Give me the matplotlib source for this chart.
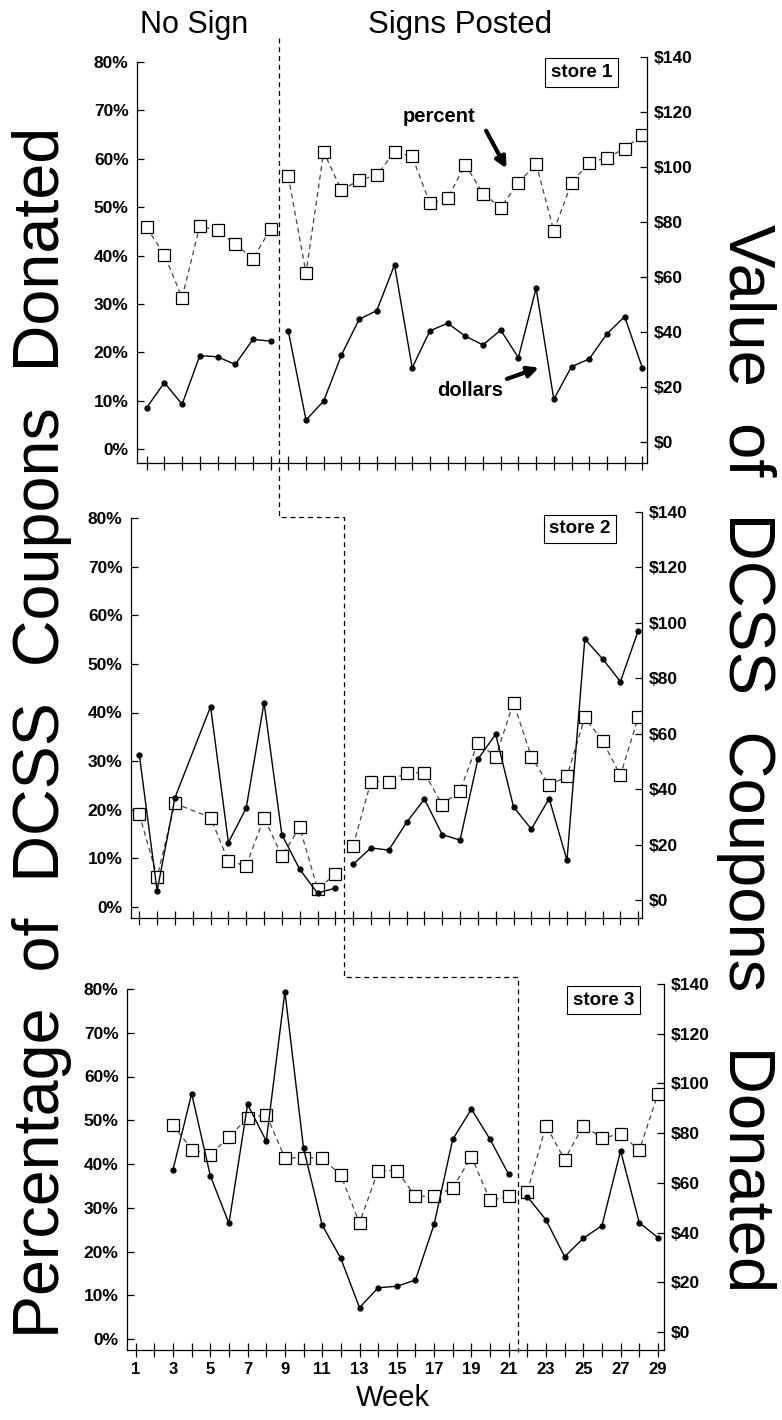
import numpy as np
import matplotlib
matplotlib.use("Agg")
import matplotlib.pyplot as plt
from matplotlib.lines import Line2D

plt.rcParams['font.family'] = ['Liberation Sans', 'DejaVu Sans']

nan = np.nan
weeks = np.arange(1, 30)

# store 1
s1_pct = [45.8, 40.1, 31.3, 46.1, 45.2, 42.4, 39.3, 45.5, 56.4, 36.4, 61.4, 53.5, 55.6, 56.6, 61.4,
          60.5, 50.8, 51.8, 58.8, 52.8, 49.9, 55.0, 59.0, 45.1, 55.0, 59.2, 60.2, 62.1, 65.0]
s1_usd = [12.5, 21.6, 13.7, 31.4, 31.0, 28.2, 37.3, 36.7, 40.4, 8.0, 14.9, 31.6, 44.6, 47.8, 64.4,
          27.0, 40.4, 43.2, 38.5, 35.3, 40.7, 30.7, 55.9, 15.5, 27.4, 30.2, 39.3, 45.6, 27.0]
# store 2
s2_pct = [19.1, 6.2, 21.3, nan, 18.4, 9.4, 8.5, 18.4, 10.5, 16.4, 3.8, 6.7, 12.6, 25.8, 25.8,
          27.6, 27.6, 21.0, 23.9, 33.8, 30.9, 42.0, 30.9, 25.0, 26.9, 39.0, 34.1, 27.1, 39.0]
s2_usd = [52.4, 3.3, 36.9, nan, 69.8, 20.7, 33.2, 71.2, 23.6, 11.1, 2.5, 4.3, 12.9, 18.8, 18.0,
          28.0, 36.4, 23.6, 21.6, 50.8, 59.8, 33.6, 25.6, 36.6, 14.3, 94.2, 87.0, 78.8, 97.2]
# store 3
s3_pct = [nan, nan, 49.0, 43.3, 42.1, 46.2, 50.5, 51.3, 41.4, 41.4, 41.4, 37.4, 26.5, 38.5, 38.5,
          32.6, 32.6, 34.5, 41.7, 31.7, 32.6, 33.7, 48.8, 41.0, 48.8, 45.9, 46.9, 43.1, 56.0]
s3_usd = [nan, nan, 65.3, 95.9, 62.9, 43.7, 91.6, 76.8, 136.9, 73.9, 43.0, 29.6, 9.8, 17.8, 18.4,
          20.9, 43.3, 77.5, 89.7, 77.5, 63.4, 54.4, 45.1, 30.3, 37.7, 42.8, 72.9, 44.0, 38.0]

store_names = ["store 1", "store 2", "store 3"]
sign_week = [8.5, 12.5, 21.5]   # signs posted after this point
pct_ticks = list(range(0, 81, 10))
usd_ticks = list(range(0, 141, 20))

W, H = 782, 1420
fig = plt.figure(figsize=(W / 100, H / 100), dpi=100)

# layout in pixels (measured on the scan, each panel was pasted a bit differently)
boxes = [(137, 647, 57, 463), (131, 642, 512, 918), (127, 664, 984, 1350)]   # left, right, top, bottom
yrefs = [(449, 62, 442, 57), (907, 518, 900, 512), (1339, 989, 1332, 984)]  # 0%, 80%, $0, $140 rows
xrefs = [(146.7, 17.7), (139.3, 17.82), (135.7, 18.65)]                     # week 1 column, px per week
label_pos = [(0.872, 0.962), (0.879, 0.959), (0.887, 0.956)]
stair_rows = [38, 517, 977, 1352]   # where the sign line starts, turns and ends

series = [(s1_pct, s1_usd), (s2_pct, s2_usd), (s3_pct, s3_usd)]


def segments(y, split):
    y = np.asarray(y, dtype=float)
    for m in (weeks < split, weeks > split):
        ok = m & ~np.isnan(y)
        yield weeks[ok], y[ok]


axes = []
for i in range(3):
    l, r, t, b = boxes[i]
    y0, y80, d0, d140 = yrefs[i]
    x1, sp = xrefs[i]
    ax = fig.add_axes([l / W, 1 - b / H, (r - l) / W, (b - t) / H])
    ax2 = ax.twinx()
    ax.patch.set_visible(False)

    ax.set_xlim(1 - (x1 - l) / sp, 1 + (r - x1) / sp)
    pp = (y0 - y80) / 80
    ax.set_ylim(-(b - y0) / pp, 80 + (y80 - t) / pp)
    dp = (d0 - d140) / 140
    ax2.set_ylim(-(b - d0) / dp, 140)

    pct, usd = series[i]
    for xs, ys in segments(pct, sign_week[i]):
        ax.plot(xs, ys, ls=(0, (4, 3)), color='#444444', lw=0.9, marker='s', ms=9,
                mfc='white', mec='black', mew=0.9, zorder=3)
    for xs, ys in segments(usd, sign_week[i]):
        ax2.plot(xs, ys, ls='-', color='black', lw=1.0, marker='o', ms=3.5, zorder=4)

    ax.set_yticks(pct_ticks)
    ax.set_yticklabels([f"{v}%" for v in pct_ticks])
    ax2.set_yticks(usd_ticks)
    ax2.set_yticklabels([f"${v}" for v in usd_ticks])
    ax.set_xticks(weeks)
    if i == 2:
        ax.set_xticklabels([str(w) if w % 2 else "" for w in weeks])
    else:
        ax.set_xticklabels([])

    for a in (ax, ax2):
        a.spines['top'].set_visible(False)
        for s in a.spines.values():
            s.set_linewidth(0.9)
    ax.spines['right'].set_visible(False)
    ax2.spines['left'].set_visible(False)
    ax2.spines['bottom'].set_visible(False)
    ax.spines['left'].set_bounds(ax.get_ylim()[0], 80)
    ax2.spines['right'].set_bounds(ax2.get_ylim()[0], 140)

    ax.tick_params(axis='x', direction='inout', length=10, width=0.9, labelsize=12, pad=4)
    ax.tick_params(axis='y', direction='in', length=5, width=0.9, labelsize=12.5, pad=6)
    ax2.tick_params(axis='y', direction='in', length=5, width=0.9, labelsize=12.5, pad=5)
    for lab in ax.get_xticklabels() + ax.get_yticklabels() + ax2.get_yticklabels():
        lab.set_fontweight('bold')

    ax.text(*label_pos[i], store_names[i], transform=ax.transAxes, ha='center', va='center',
            fontsize=13.5, fontweight='bold',
            bbox=dict(boxstyle='square,pad=0.3', fc='white', ec='black', lw=0.8))
    axes.append((ax, ax2))

# arrows for store 1
ax, ax2 = axes[0]
ax.text(17.5, 68.7, "percent", ha='center', va='center', fontsize=14.5, fontweight='bold')
ax.annotate('', xy=(21.4, 57.5), xytext=(20.1, 66.3),
            arrowprops=dict(arrowstyle='-|>', lw=3, color='black', mutation_scale=16))
ax2.text(19.3, 18.9, "dollars", ha='center', va='center', fontsize=14.5, fontweight='bold')
ax2.annotate('', xy=(23.3, 27.4), xytext=(21.2, 22.6),
             arrowprops=dict(arrowstyle='-|>', lw=3, color='black', mutation_scale=16))

# staircase line where signs were posted
pts = []
for i, (ax, ax2) in enumerate(axes):
    xd = ax.transData.transform((sign_week[i], 0))[0]
    pts.append((xd, H - stair_rows[i]))
    pts.append((xd, H - stair_rows[i + 1]))
pts = fig.transFigure.inverted().transform(np.array(pts))
fig.add_artist(Line2D(pts[:, 0], pts[:, 1], transform=fig.transFigure, ls=(0, (4, 3)),
                      color='black', lw=0.9))

fig.text(194 / W, 1 - 33 / H, "No Sign", ha='center', va='baseline', fontsize=22)
fig.text(460 / W, 1 - 33 / H, "Signs Posted", ha='center', va='baseline', fontsize=22.5)
fig.text(393 / W, 1 - 1398 / H, "Week", ha='center', va='center', fontsize=21)
fig.text(42 / W, 1 - 732 / H, "Percentage  of  DCSS  Coupons  Donated", rotation=90,
         ha='center', va='center', fontsize=46.5)
fig.text(746 / W, 1 - 758 / H, "Value  of  DCSS  Coupons   Donated", rotation=-90,
         ha='center', va='center', fontsize=47)

fig.savefig("out.png", dpi=100)
